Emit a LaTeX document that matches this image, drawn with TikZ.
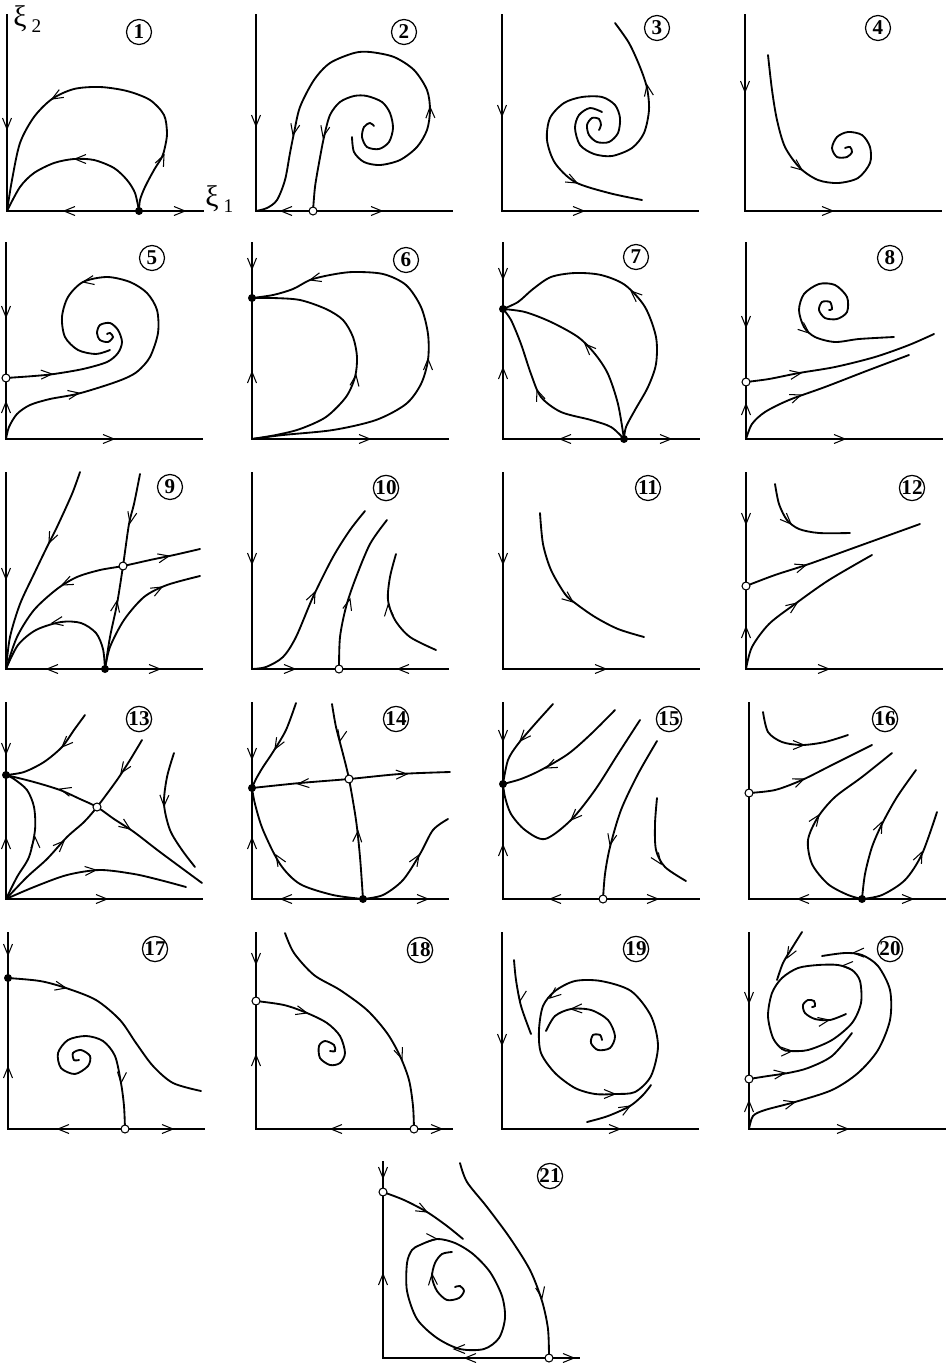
\documentclass[tikz,border=0pt]{standalone}
\usepackage{fontspec}
\setmainfont{Liberation Serif}

\begin{document}
\begin{tikzpicture}[
  x=0.02cm, y=0.02cm,
  orbit/.style={line width=1.05pt, line cap=round},
  axisline/.style={line width=1.2pt},
  num/.style={draw, circle, line width=0.7pt, inner sep=0pt, minimum size=0.5cm,
    font=\bfseries\fontsize{12}{12}\selectfont},
  sdot/.style={circle, fill=black, inner sep=0pt, minimum size=0.16cm},
  odot/.style={circle, draw, fill=white, line width=0.6pt, inner sep=0pt, minimum size=0.16cm},
  axlbl/.style={inner sep=0pt, anchor=west, font=\fontsize{17}{17}\selectfont},
  vtip/.pic={\draw[line width=0.6pt] (-11,4.5) -- (0,0) -- (-11,-4.5);},
  axes/.pic={\draw[axisline] (0,197) -- (0,0) -- (197,0);}
]
\useasboundingbox (0,-1363) rectangle (950,0);

\begin{scope}[shift={(7,-211)}]
\pic {axes};
\draw[orbit] plot[smooth] coordinates {(0,0) (5,31) (13,68) (27,94) (45,112) (67,122) (93,124) (120,120) (143,111) (157,96) (160,78) (158,64) (155,54) (147,41) (138,24) (133,11) (132,0)};
\draw[orbit] plot[smooth] coordinates {(0,0) (13,24) (27,38) (47,48) (67,52) (87,51) (107,43) (120,31) (128,18) (132,0)};
\pic[rotate=-90] at (0,82) {vtip};
\pic[rotate=180] at (57,0) {vtip};
\pic at (178,0) {vtip};
\pic[rotate=210] at (45,112) {vtip};
\pic[rotate=65] at (157,56) {vtip};
\pic[rotate=180] at (68,52) {vtip};
\node[sdot] (s1) at (132,0) {};
\node[num] (n1) at (132,179) {1};
\node[axlbl] (xi2) at (6,192) {ξ\,\raisebox{-0.45ex}{\fontsize{11}{11}\selectfont 2}};
\node[axlbl] (xi1) at (198,12) {ξ\,\raisebox{-0.45ex}{\fontsize{11}{11}\selectfont 1}};
\end{scope}

\begin{scope}[shift={(256,-211)}]
\pic {axes};
\draw[orbit] plot[smooth] coordinates {(0,0) (11,3) (21,11) (29,31) (34,58) (38,78) (44,104) (58,131) (74,148) (98,158) (114,159) (138,154) (158,141) (171,121) (174,101) (171,81) (161,64) (144,51) (124,46) (108,49) (98,59) (96,74)};
\draw[orbit] plot[smooth] coordinates {(57,0) (59,24) (63,48) (68,74) (74,96) (84,109) (98,115) (111,115) (126,109) (134,98) (137,83) (133,69) (123,62) (111,64) (106,74) (108,84) (114,88) (118,85)};
\pic[rotate=-90] at (0,85) {vtip};
\pic[rotate=180] at (25,0) {vtip};
\pic at (126,0) {vtip};
\pic[rotate=258] at (37,76) {vtip};
\pic[rotate=92] at (174,104) {vtip};
\pic[rotate=258] at (67,74) {vtip};
\node[odot] (u2) at (57,0) {};
\node[num] (n2) at (148,179) {2};
\end{scope}

\begin{scope}[shift={(502,-211)}]
\pic {axes};
\draw[orbit] plot[smooth] coordinates {(113,188) (127,168) (138,144) (145,123) (147,101) (142,78) (130,63) (110,55) (92,57) (78,66) (73,83) (77,96) (88,103) (100,99)};
\draw[orbit] plot[smooth] coordinates {(140,11) (107,18) (73,29) (53,48) (45,71) (48,93) (62,108) (80,114) (100,114) (113,106) (118,93) (116,78) (107,69) (95,69) (87,76) (85,86) (90,93) (97,92) (99,86) (97,81)};
\pic[rotate=-90] at (0,95) {vtip};
\pic at (82,0) {vtip};
\pic[rotate=100] at (145,126) {vtip};
\pic[rotate=-27] at (75,28) {vtip};
\node[num] (n3) at (155,183) {3};
\end{scope}

\begin{scope}[shift={(745,-211)}]
\pic {axes};
\draw[orbit] plot[smooth] coordinates {(23,156) (27,121) (32,91) (40,64) (55,43) (73,31) (93,28) (113,33) (125,48) (125,64) (117,76) (103,79) (92,74) (87,63) (92,54) (102,54) (107,59) (105,64) (100,63)};
\pic[rotate=-90] at (0,119) {vtip};
\pic at (88,0) {vtip};
\pic[rotate=-38] at (57,41) {vtip};
\node[num] (n4) at (133,183) {4};
\end{scope}

\begin{scope}[shift={(6,-439)}]
\pic {axes};
\draw[orbit] plot[smooth] coordinates {(0,0) (3,12) (11,25) (24,34) (44,40) (71,45) (101,54) (120,61) (132,68) (144,82) (152,106) (151,129) (141,146) (124,157) (101,162) (77,157) (62,142) (56,122) (59,102) (72,89) (90,85) (104,89)};
\draw[orbit] plot[smooth] coordinates {(0,61) (28,63) (48,65) (77,70) (101,77) (112,86) (116,97) (112,109) (104,116) (94,114) (91,106) (94,99) (102,97) (107,102) (104,106) (101,105)};
\pic[rotate=-90] at (0,122) {vtip};
\pic[rotate=90] at (0,37) {vtip};
\pic at (108,0) {vtip};
\pic[rotate=10] at (73,46) {vtip};
\pic[rotate=190] at (77,157) {vtip};
\pic[rotate=3] at (46,65) {vtip};
\node[odot] (u5) at (0,61) {};
\node[num] (n5) at (146,181) {5};
\end{scope}

\begin{scope}[shift={(252,-439)}]
\pic {axes};
\draw[orbit] plot[smooth] coordinates {(0,0) (31,4) (81,9) (124,19) (154,35) (169,55) (176,79) (176,105) (169,132) (154,154) (131,165) (101,167) (78,164) (58,159) (41,150) (21,144) (0,141)};
\draw[orbit] plot[smooth] coordinates {(0,0) (24,4) (48,10) (74,22) (94,42) (103,62) (105,82) (101,102) (91,119) (74,130) (48,139) (21,141) (0,141)};
\pic[rotate=-90] at (0,170) {vtip};
\pic[rotate=90] at (0,67) {vtip};
\pic at (118,0) {vtip};
\pic[rotate=90] at (176,80) {vtip};
\pic[rotate=195] at (58,159) {vtip};
\pic[rotate=82] at (104,64) {vtip};
\node[sdot] (s6) at (0,141) {};
\node[num] (n6) at (154,179) {6};
\end{scope}

\begin{scope}[shift={(503,-439)}]
\pic {axes};
\draw[orbit] plot[smooth] coordinates {(0,130) (15,137) (30,150) (48,162) (72,166) (98,164) (122,154) (142,132) (153,102) (153,75) (145,52) (132,29) (123,12) (121,0)};
\draw[orbit] plot[smooth] coordinates {(0,130) (22,127) (48,117) (75,102) (92,85) (105,65) (115,35) (121,0)};
\draw[orbit] plot[smooth] coordinates {(0,130) (8,119) (18,95) (28,65) (38,42) (58,27) (88,19) (108,12) (121,0)};
\pic[rotate=-90] at (0,160) {vtip};
\pic[rotate=90] at (0,71) {vtip};
\pic[rotate=180] at (57,0) {vtip};
\pic at (168,0) {vtip};
\pic[rotate=138] at (128,148) {vtip};
\pic[rotate=135] at (82,95) {vtip};
\pic[rotate=110] at (34,49) {vtip};
\node[sdot] (s7a) at (0,130) {};
\node[sdot] (s7b) at (121,0) {};
\node[num] (n7) at (133,182) {7};
\end{scope}

\begin{scope}[shift={(746,-439)}]
\pic {axes};
\draw[orbit] plot[smooth] coordinates {(148,102) (113,100) (89,97) (69,102) (58,112) (53,129) (58,145) (73,155) (89,154) (101,142) (101,127) (91,120) (79,121) (73,129) (76,137) (84,137) (86,130) (83,129)};
\draw[orbit] plot[smooth] coordinates {(0,57) (23,60) (53,66) (89,72) (129,82) (163,94) (188,105)};
\draw[orbit] plot[smooth] coordinates {(0,0) (6,15) (19,27) (43,39) (79,52) (123,69) (163,84)};
\pic[rotate=-90] at (0,112) {vtip};
\pic[rotate=90] at (0,35) {vtip};
\pic at (99,0) {vtip};
\pic[rotate=-40] at (63,106) {vtip};
\pic[rotate=10] at (55,66) {vtip};
\pic[rotate=20] at (55,44) {vtip};
\node[odot] (u8) at (0,57) {};
\node[num] (n8) at (144,181) {8};
\end{scope}

\begin{scope}[shift={(6,-669)}]
\pic {axes};
\draw[orbit] plot[smooth] coordinates {(74,197) (66,175) (51,142) (41,122) (28,95) (14,65) (4,32) (0,0)};
\draw[orbit] plot[smooth] coordinates {(0,0) (11,32) (28,59) (51,80) (71,92) (94,99) (117,103) (144,109) (168,114) (194,120)};
\draw[orbit] plot[smooth] coordinates {(134,195) (128,165) (123,145) (117,103) (111,65) (104,32) (99,0)};
\draw[orbit] plot[smooth] coordinates {(99,0) (97,20) (90,36) (75,46) (55,47) (30,39) (12,24) (0,0)};
\draw[orbit] plot[smooth] coordinates {(99,0) (104,22) (118,49) (138,72) (161,84) (194,93)};
\pic[rotate=-90] at (0,90) {vtip};
\pic[rotate=180] at (41,0) {vtip};
\pic at (154,0) {vtip};
\pic[rotate=245] at (43,126) {vtip};
\pic[rotate=205] at (56,84) {vtip};
\pic[rotate=12] at (163,113) {vtip};
\pic[rotate=258] at (124,146) {vtip};
\pic[rotate=80] at (111,68) {vtip};
\pic[rotate=190] at (46,46) {vtip};
\pic[rotate=28] at (156,82) {vtip};
\node[sdot] (s9) at (99,0) {};
\node[odot] (u9) at (117,103) {};
\node[num] (n9) at (164,182) {9};
\end{scope}

\begin{scope}[shift={(252,-669)}]
\pic {axes};
\draw[orbit] plot[smooth] coordinates {(0,0) (14,2) (31,12) (44,32) (61,72) (81,112) (98,139) (113,158)};
\draw[orbit] plot[smooth] coordinates {(87,0) (88,32) (94,62) (103,89) (118,125) (135,149)};
\draw[orbit] plot[smooth] coordinates {(144,115) (138,92) (136,69) (143,49) (158,32) (184,19)};
\pic[rotate=-90] at (0,105) {vtip};
\pic at (43,0) {vtip};
\pic[rotate=180] at (146,0) {vtip};
\pic[rotate=65] at (63,77) {vtip};
\pic[rotate=75] at (98,70) {vtip};
\pic[rotate=95] at (136,64) {vtip};
\node[odot] (u10) at (87,0) {};
\node[num] (n10) at (134,181) {10};
\end{scope}

\begin{scope}[shift={(503,-669)}]
\pic {axes};
\draw[orbit] plot[smooth] coordinates {(37,156) (40,125) (48,99) (62,75) (72,66) (92,52) (115,40) (141,32)};
\pic[rotate=-90] at (0,105) {vtip};
\pic at (103,0) {vtip};
\pic[rotate=-38] at (70,67) {vtip};
\node[num] (n11) at (145,181) {11};
\end{scope}

\begin{scope}[shift={(746,-669)}]
\pic {axes};
\draw[orbit] plot[smooth] coordinates {(29,185) (33,165) (41,149) (53,140) (73,136) (104,136)};
\draw[orbit] plot[smooth] coordinates {(0,83) (29,94) (63,105) (113,123) (174,145)};
\draw[orbit] plot[smooth] coordinates {(0,0) (6,22) (23,45) (49,65) (83,89) (126,114)};
\pic[rotate=-90] at (0,145) {vtip};
\pic[rotate=90] at (0,42) {vtip};
\pic at (83,0) {vtip};
\pic[rotate=-45] at (45,145) {vtip};
\pic[rotate=18] at (60,104) {vtip};
\pic[rotate=35] at (51,66) {vtip};
\node[odot] (u12) at (0,83) {};
\node[num] (n12) at (166,181) {12};
\end{scope}

\begin{scope}[shift={(6,-899)}]
\pic {axes};
\draw[orbit] plot[smooth] coordinates {(79,184) (68,169) (56,152) (38,137) (18,127) (0,124)};
\draw[orbit] plot[smooth] coordinates {(0,124) (28,117) (54,109) (74,100) (91,92) (108,80) (128,67) (154,47) (196,16)};
\draw[orbit] plot[smooth] coordinates {(136,159) (124,139) (111,119) (91,92) (78,77) (61,62) (41,40) (21,22) (0,0)};
\draw[orbit] plot[smooth] coordinates {(0,0) (11,22) (23,42) (29,69) (28,92) (21,109) (8,120) (0,124)};
\draw[orbit] plot[smooth] coordinates {(0,0) (28,12) (61,24) (94,29) (128,25) (154,19) (180,12)};
\draw[orbit] plot[smooth] coordinates {(168,146) (161,122) (158,95) (164,69) (176,49) (189,32)};
\pic[rotate=-90] at (0,145) {vtip};
\pic[rotate=90] at (0,61) {vtip};
\pic at (101,0) {vtip};
\pic[rotate=225] at (56,152) {vtip};
\pic[rotate=165] at (54,110) {vtip};
\pic[rotate=-35] at (124,70) {vtip};
\pic[rotate=236] at (115,126) {vtip};
\pic[rotate=45] at (58,58) {vtip};
\pic[rotate=92] at (29,62) {vtip};
\pic[rotate=5] at (90,29) {vtip};
\pic[rotate=268] at (158,93) {vtip};
\node[sdot] (s13) at (0,124) {};
\node[odot] (u13) at (91,92) {};
\node[num] (n13) at (133,180) {13};
\end{scope}

\begin{scope}[shift={(252,-899)}]
\pic {axes};
\draw[orbit] plot[smooth] coordinates {(44,196) (34,169) (21,147) (11,132) (4,120) (0,111)};
\draw[orbit] plot[smooth] coordinates {(0,111) (48,116) (97,120) (148,125) (198,127)};
\draw[orbit] plot[smooth] coordinates {(80,195) (84,172) (91,145) (97,120) (104,79) (108,42) (111,0)};
\draw[orbit] plot[smooth] coordinates {(111,0) (81,4) (48,15) (28,35) (11,69) (3,95) (0,111)};
\draw[orbit] plot[smooth] coordinates {(111,0) (131,4) (151,19) (168,45) (181,69) (196,80)};
\pic[rotate=-90] at (0,140) {vtip};
\pic[rotate=90] at (0,61) {vtip};
\pic[rotate=180] at (29,0) {vtip};
\pic at (176,0) {vtip};
\pic[rotate=240] at (23,150) {vtip};
\pic[rotate=185] at (46,115) {vtip};
\pic[rotate=3] at (155,125) {vtip};
\pic[rotate=258] at (88,158) {vtip};
\pic[rotate=86] at (106,68) {vtip};
\pic[rotate=122] at (24,44) {vtip};
\pic[rotate=58] at (167,44) {vtip};
\node[sdot] (s14a) at (0,111) {};
\node[sdot] (s14b) at (111,0) {};
\node[odot] (u14) at (97,120) {};
\node[num] (n14) at (144,180) {14};
\end{scope}

\begin{scope}[shift={(503,-899)}]
\pic {axes};
\draw[orbit] plot[smooth] coordinates {(50,195) (32,175) (15,155) (5,139) (0,115)};
\draw[orbit] plot[smooth] coordinates {(112,189) (88,165) (65,145) (38,129) (18,120) (0,115)};
\draw[orbit] plot[smooth] coordinates {(137,179) (115,145) (92,109) (68,79) (42,60) (22,69) (8,85) (2,102) (0,115)};
\draw[orbit] plot[smooth] coordinates {(154,158) (135,125) (118,89) (107,52) (102,25) (100,0)};
\draw[orbit] plot[smooth] coordinates {(154,101) (152,75) (153,49) (162,32) (183,18)};
\pic[rotate=-90] at (0,158) {vtip};
\pic[rotate=90] at (0,54) {vtip};
\pic[rotate=180] at (47,0) {vtip};
\pic at (155,0) {vtip};
\pic[rotate=228] at (17,158) {vtip};
\pic[rotate=205] at (43,131) {vtip};
\pic[rotate=225] at (68,79) {vtip};
\pic[rotate=258] at (107,54) {vtip};
\pic[rotate=-55] at (158,35) {vtip};
\node[sdot] (s15) at (0,115) {};
\node[odot] (u15) at (100,0) {};
\node[num] (n15) at (166,180) {15};
\end{scope}

\begin{scope}[shift={(749,-899)}]
\pic {axes};
\draw[orbit] plot[smooth] coordinates {(14,187) (19,167) (33,157) (53,154) (76,157) (99,164)};
\draw[orbit] plot[smooth] coordinates {(0,106) (26,109) (53,119) (83,134) (123,154)};
\draw[orbit] plot[smooth] coordinates {(143,146) (113,122) (86,102) (69,82) (59,59) (63,35) (79,15) (99,4) (113,0)};
\draw[orbit] plot[smooth] coordinates {(113,0) (116,25) (123,52) (133,75) (148,102) (167,129)};
\draw[orbit] plot[smooth] coordinates {(113,0) (133,4) (156,19) (173,45) (188,87)};
\pic[rotate=180] at (49,0) {vtip};
\pic at (164,0) {vtip};
\pic at (55,154) {vtip};
\pic[rotate=22] at (55,120) {vtip};
\pic[rotate=55] at (70,84) {vtip};
\pic[rotate=65] at (133,77) {vtip};
\pic[rotate=65] at (173,47) {vtip};
\node[odot] (u16) at (0,106) {};
\node[sdot] (s16) at (113,0) {};
\node[num] (n16) at (136,180) {16};
\end{scope}

\begin{scope}[shift={(8,-1129)}]
\pic {axes};
\draw[orbit] plot[smooth] coordinates {(0,151) (32,148) (58,141) (88,129) (112,109) (128,86) (145,63) (165,46) (193,38)};
\draw[orbit] plot[smooth] coordinates {(117,0) (116,23) (113,46) (107,73) (95,88) (78,93) (60,89) (50,76) (53,61) (67,55) (80,63) (82,73) (73,79) (65,76) (66,69) (71,69)};
\pic[rotate=-90] at (0,174) {vtip};
\pic[rotate=90] at (0,62) {vtip};
\pic[rotate=180] at (50,0) {vtip};
\pic at (165,0) {vtip};
\pic[rotate=-12] at (58,141) {vtip};
\pic[rotate=265] at (113,46) {vtip};
\node[sdot] (s17) at (0,151) {};
\node[odot] (u17) at (117,0) {};
\node[num] (n17) at (147,180) {17};
\end{scope}

\begin{scope}[shift={(256,-1129)}]
\pic {axes};
\draw[orbit] plot[smooth] coordinates {(29,196) (38,176) (58,154) (84,139) (111,119) (131,96) (144,73) (153,49) (157,23) (158,0)};
\draw[orbit] plot[smooth] coordinates {(0,128) (28,124) (51,116) (71,106) (84,93) (89,76) (84,66) (74,64) (64,71) (63,83) (69,88) (78,84) (79,78) (74,78)};
\pic[rotate=-90] at (0,165) {vtip};
\pic[rotate=90] at (0,74) {vtip};
\pic[rotate=180] at (75,0) {vtip};
\pic at (186,0) {vtip};
\pic[rotate=290] at (146,70) {vtip};
\pic[rotate=-15] at (51,116) {vtip};
\node[odot] (u18a) at (0,128) {};
\node[odot] (u18b) at (158,0) {};
\node[num] (n18) at (164,179) {18};
\end{scope}

\begin{scope}[shift={(502,-1129)}]
\pic {axes};
\draw[orbit] plot[smooth] coordinates {(12,169) (14,149) (19,123) (29,95)};
\draw[orbit] plot[smooth] coordinates {(85,7) (106,13) (128,23) (141,34) (149,44)};
\draw[orbit] plot[smooth cycle] coordinates {(113,35) (133,37) (149,53) (156,83) (149,113) (129,138) (99,148) (73,148) (53,138) (41,123) (37,99) (39,76) (53,56) (73,41) (93,35)};
\draw[orbit] plot[smooth] coordinates {(44,98) (53,113) (69,120) (89,119) (106,109) (113,93) (108,81) (96,79) (89,86) (91,94) (98,94) (100,89)};
\pic[rotate=-90] at (0,84) {vtip};
\pic at (118,0) {vtip};
\pic[rotate=260] at (18,128) {vtip};
\pic[rotate=30] at (128,23) {vtip};
\pic[rotate=220] at (48,131) {vtip};
\pic at (113,35) {vtip};
\pic[rotate=183] at (69,120) {vtip};
\node[num] (n19) at (134,180) {19};
\end{scope}

\begin{scope}[shift={(749,-1129)}]
\pic {axes};
\draw[orbit] plot[smooth] coordinates {(53,197) (43,181) (34,166) (28,149)};
\draw[orbit] plot[smooth] coordinates {(0,0) (4,13) (16,19) (46,27) (83,39) (109,56) (129,79) (141,109) (141,139) (129,163) (113,174) (96,176) (73,173)};
\draw[orbit] plot[smooth] coordinates {(0,50) (19,53) (39,56) (59,61) (83,73) (103,96)};
\draw[orbit] plot[smooth cycle] coordinates {(41,78) (59,79) (83,89) (103,106) (112,126) (111,148) (103,159) (89,164) (69,164) (49,161) (33,151) (23,136) (19,113) (24,91) (33,80)};
\draw[orbit] plot[smooth] coordinates {(97,115) (81,109) (66,110) (56,116) (54,124) (59,129) (65,128) (66,123) (63,122)};
\pic[rotate=-90] at (0,126) {vtip};
\pic[rotate=90] at (0,28) {vtip};
\pic at (99,0) {vtip};
\pic[rotate=240] at (38,171) {vtip};
\pic[rotate=15] at (46,27) {vtip};
\pic[rotate=182] at (104,176) {vtip};
\pic[rotate=8] at (36,56) {vtip};
\pic[rotate=180] at (93,163) {vtip};
\pic[rotate=3] at (43,78) {vtip};
\pic[rotate=10] at (80,109) {vtip};
\node[odot] (u20) at (0,50) {};
\node[num] (n20) at (141,180) {20};
\end{scope}

\begin{scope}[shift={(383,-1358)}]
\pic {axes};
\draw[orbit] plot[smooth] coordinates {(0,166) (21,158) (44,146) (64,132) (80,119)};
\draw[orbit] plot[smooth] coordinates {(77,195) (84,176) (104,151) (127,120) (147,88) (159,57) (165,29) (166,0)};
\draw[orbit] plot[smooth cycle] coordinates {(37,113) (54,119) (72,115) (90,104) (107,86) (119,62) (122,40) (116,20) (101,9) (77,9) (54,20) (34,39) (24,67) (24,95) (29,108)};
\draw[orbit] plot[smooth] coordinates {(69,106) (59,104) (52,95) (49,81) (54,67) (64,58) (76,60) (81,67) (77,72) (72,71)};
\pic[rotate=-90] at (0,180) {vtip};
\pic[rotate=90] at (0,84) {vtip};
\pic[rotate=180] at (82,0) {vtip};
\pic at (191,0) {vtip};
\pic[rotate=-28] at (44,146) {vtip};
\pic[rotate=280] at (159,60) {vtip};
\pic[rotate=-5] at (54,119) {vtip};
\pic[rotate=180] at (71,9) {vtip};
\pic[rotate=95] at (49,84) {vtip};
\node[odot] (u21a) at (0,166) {};
\node[odot] (u21b) at (166,0) {};
\node[num] (n21) at (167,182) {21};
\end{scope}
\end{tikzpicture}
\end{document}
